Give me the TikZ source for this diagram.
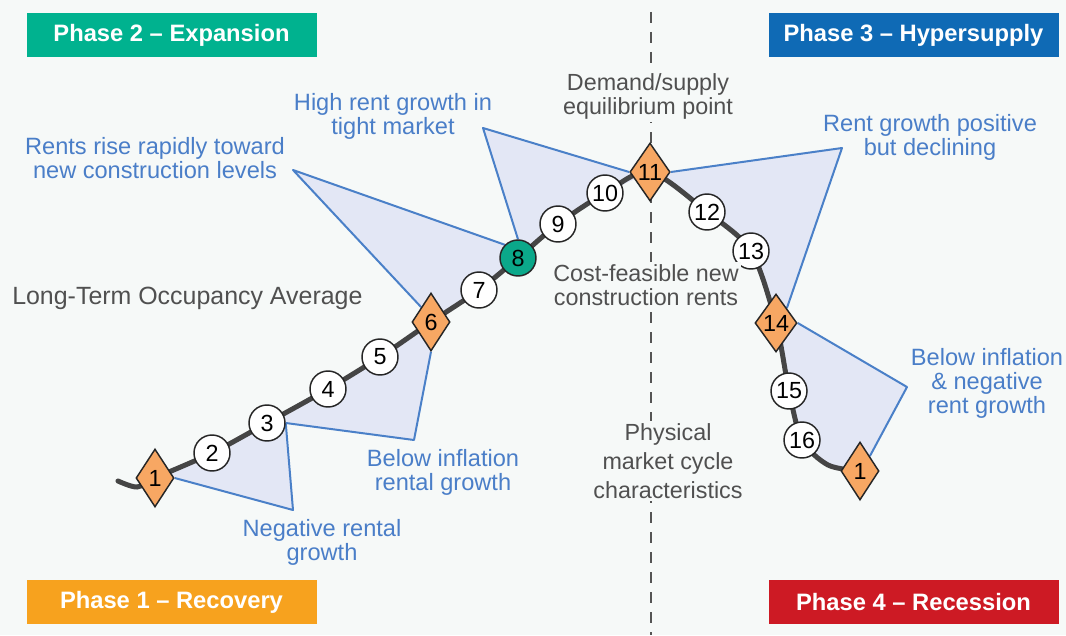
\documentclass[tikz,border=0pt]{standalone}
\usepackage{fontspec}
\setmainfont{Liberation Sans}
\usetikzlibrary{shapes.geometric}
\pgfdeclarelayer{back}
\pgfsetlayers{back,main}
\definecolor{bgc}{HTML}{F6F9F8}
\definecolor{cgreen}{HTML}{00B28F}
\definecolor{cblue}{HTML}{0F6AB5}
\definecolor{corange}{HTML}{F7A21E}
\definecolor{cred}{HTML}{CD1A24}
\definecolor{txtblue}{HTML}{4A7EC8}
\definecolor{txtgray}{HTML}{505050}
\definecolor{wedgec}{HTML}{E3E7F5}
\definecolor{edgeblue}{HTML}{4A80C8}
\definecolor{diaor}{HTML}{F7A763}
\definecolor{tealc}{HTML}{0BA88A}
\definecolor{curvec}{HTML}{454545}
\definecolor{divc}{HTML}{555555}
\newcommand{\pf}[2]{\fontsize{#1pt}{#2pt}\selectfont}
\tikzset{
 numc/.style={circle, draw=black!85, line width=1.1pt, fill=white, minimum size=27pt, inner sep=0pt, font=\pf{17.5}{18}},
 diam/.style={diamond, draw=black!85, line width=1.1pt, fill=diaor, minimum width=28.5pt, minimum height=43.5pt, inner sep=0pt, font=\pf{17.5}{18}},
 phase/.style={minimum width=217.5pt, minimum height=33pt, inner sep=0pt, text=white, font=\bfseries\pf{17.8}{20}},
 note/.style={align=center, text=txtblue, font=\pf{17.7}{18}, inner sep=1pt},
 gnote/.style={align=center, text=txtgray, font=\pf{17.5}{18}, inner sep=2pt, fill=bgc},
 wedgefill/.style={fill=wedgec},
 wedgeline/.style={draw=edgeblue, line width=1.5pt, line join=round},
 cyc/.style={draw=curvec, line width=3.75pt, line cap=round},
 divider/.style={draw=divc, line width=1.5pt, dash pattern=on 8pt off 7pt}
}
\begin{document}
\begin{tikzpicture}[x=0.75pt,y=-0.75pt]
\useasboundingbox (0,0) rectangle (1066,635);
% phase labels
\node[phase, fill=cgreen] (p2) at (171.5,35) {Phase 2 – Expansion};
\node[phase, fill=cblue] (p3) at (913.5,35) {Phase 3 – Hypersupply};
\node[phase, fill=corange] (p1) at (171.5,602) {Phase 1 – Recovery};
\node[phase, fill=cred] (p4) at (913.5,602) {Phase 4 – Recession};
% cycle points
\node[diam] (d1a) at (155,478) {1};
\node[numc] (c2) at (212,453) {2};
\node[numc] (c3) at (267,423) {3};
\node[numc] (c4) at (328,389) {4};
\node[numc] (c5) at (380,357) {5};
\node[diam] (d6) at (431,322) {6};
\node[numc] (c7) at (479,290) {7};
\node[numc, fill=tealc] (c8) at (518,258) {8};
\node[numc] (c9) at (558,224) {9};
\node[numc] (c10) at (605,193) {10};
\node[diam] (d11) at (650,172) {11};
\node[numc] (c12) at (707,212) {12};
\node[numc] (c13) at (751,251) {13};
\node[diam] (d14) at (776,323) {14};
\node[numc] (c15) at (789,391) {15};
\node[numc] (c16) at (802,440) {16};
\node[diam] (d1b) at (860,471) {1};
% wedge tips
\coordinate (w1) at (293,510);
\coordinate (w2) at (414,440);
\coordinate (w3) at (293,170);
\coordinate (w4) at (483,128);
\coordinate (w5) at (842,148);
\coordinate (w6) at (907,387);
\coordinate (hook) at (118,481);
\coordinate (hook2) at (137,487);
\coordinate (tail) at (828,465);
\coordinate (dtop) at (651,12);
\coordinate (dbot) at (651,635);
% texts
\node[note] (t1) at (155,158) {Rents rise rapidly toward\\new construction levels};
\node[note] (t2) at (393,116) {High rent growth in\\tight market};
\node[gnote] (t3) at (648,96) {Demand/supply\\equilibrium point};
\node[note] (t4) at (930,137) {Rent growth positive\\but declining};
\node[align=left, text=txtgray, font=\pf{18.7}{20}, anchor=west, inner sep=0pt] (t5) at (12,298) {Long-Term Occupancy Average};
\node[gnote] (t6) at (646,285) {Cost-feasible new\\construction rents};
\node[note] (t7) at (987,383) {Below inflation\\\& negative\\rent growth};
\node[gnote, font=\pf{17.5}{21.75}] (t8) at (668,461) {Physical\\market cycle\\characteristics};
\node[note] (t9) at (443,472) {Below inflation\\rental growth};
\node[note] (t10) at (322,542) {Negative rental\\growth};
\begin{pgfonlayer}{back}
\fill[bgc] (0,0) rectangle (1066,635);
% wedge fills
\fill[wedgefill] (d1a.east) -- (w1) -- (c3.east) -- (c3.center) -- (c2.center) -- (d1a.center) -- cycle;
\fill[wedgefill] (c3.east) -- (w2) -- (d6.south) -- (d6.center) -- (c5.center) -- (c4.center) -- (c3.center) -- cycle;
\fill[wedgefill] (w3) -- (d6.north west) -- (d6.center) -- (c7.center) -- (c8.center) -- (c8.north west) -- cycle;
\fill[wedgefill] (w4) -- (c8.north) -- (c8.center) -- (c9.center) -- (c10.center) -- (d11.center) -- (d11.west) -- cycle;
\fill[wedgefill] (d11.east) -- (w5) -- (d14.north east) -- (d14.center) -- (c13.center) -- (c12.center) -- (d11.center) -- cycle;
\fill[wedgefill] (d14.east) -- (w6) -- (d1b.north east) -- (d1b.center) -- (tail) -- (c16.center) -- (c15.center) -- (d14.center) -- cycle;
% wedge edges
\draw[wedgeline] (d1a.east) -- (w1) -- (c3.east);
\draw[wedgeline] (c3.east) -- (w2) -- (d6.south);
\draw[wedgeline] (d6.north west) -- (w3) -- (c8.north west);
\draw[wedgeline] (c8.north) -- (w4) -- (d11.west);
\draw[wedgeline] (d11.east) -- (w5) -- (d14.north east);
\draw[wedgeline] (d14.east) -- (w6) -- (d1b.north east);
% divider
\draw[divider] (dtop) -- (dbot);
% cycle curve
\draw[cyc] plot[smooth, tension=0.5] coordinates {(hook) (hook2) (d1a.center) (c2.center) (c3.center) (c4.center) (c5.center) (d6.center) (c7.center) (c8.center) (c9.center) (c10.center) (d11.center) (c12.center) (c13.center) (d14.center) (c15.center) (c16.center) (tail) (d1b.center)};
\end{pgfonlayer}
\end{tikzpicture}
\end{document}
